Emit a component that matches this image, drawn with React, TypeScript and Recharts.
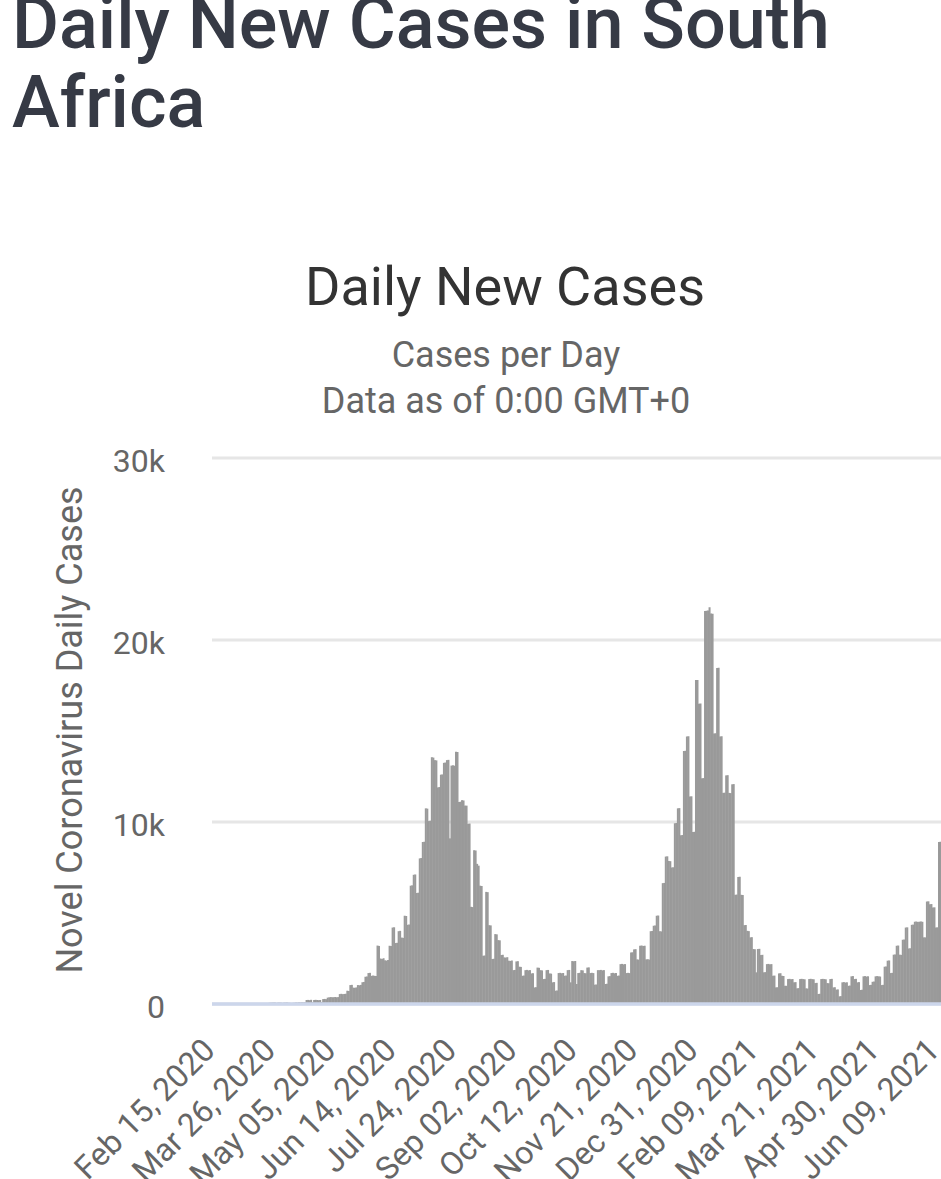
import React from 'react';
import { BarChart, Bar, XAxis, YAxis, CartesianGrid } from 'recharts';

// daily new cases, South Africa, one array per month
const feb2020 = [0, 0, 0, 0, 0, 0, 0, 0, 0, 0, 0, 0, 0, 0, 0];
const mar2020 = [
  0, 0, 0, 0, 1, 0, 1, 2, 4, 6, 3, 11, 4, 13, 13, 24, 7, 31, 34, 52,
  38, 34, 60, 70, 70, 80, 80, 60, 70, 80, 70,
];
const apr2020 = [
  60, 70, 80, 80, 70, 60, 50, 60, 70, 80, 80, 90, 90, 90, 90, 90,
  220, 225, 210, 230, 100, 220, 230, 220, 210, 220, 110, 270, 280, 265,
];
const may2020 = [
  350, 365, 380, 370, 372, 385, 368, 380, 545, 560, 540, 552, 563,
  730, 716, 1040, 1052, 900, 888, 912, 1040, 1028, 1050, 1195, 1212,
  1498, 1512, 1700, 1712, 1548, 1562,
];
const jun2020 = [
  1550, 1538, 3210, 3190, 2500, 2470, 2515, 2400, 2385, 2418, 3200, 3185,
  4200, 4215, 3350, 3362, 4000, 4020, 3650, 3632, 4850, 4836, 4350, 4368,
  6500, 6520, 7100, 7118, 6100, 6115,
];
const jul2020 = [
  8000, 8020, 8900, 8915, 10750, 10735, 10050, 10070, 13560, 13540,
  13400, 13385, 11900, 11920, 12600, 12615, 13250, 13268, 13400, 13415,
  9100, 13100, 13115, 13095, 13860, 13845, 11100, 11115, 11200, 11185,
  10900,
];
const aug2020 = [
  10900, 9900, 9915, 5340, 5325, 8450, 8435, 7700, 7600, 6500, 6485,
  2650, 2665, 6160, 6145, 4330, 4318, 2470, 2485, 3840, 3826, 3510, 3498,
  2690, 2705, 2560, 2548, 2572, 2380, 2366, 2392,
];
const sep2020 = [
  1860, 1872, 2340, 2352, 2050, 2038, 1550, 1562, 1860, 1874, 1848, 1862,
  1680, 1692, 910, 922, 2000, 1988, 1860, 1846, 1370, 1382, 1860, 1871,
  1680, 1668, 1190, 1203, 730, 742,
];
const oct2020 = [
  1700, 1712, 1688, 1702, 1550, 1563, 1860, 1872, 1190, 2360, 2348, 2362,
  1100, 1700, 1713, 1860, 1847, 1700, 1688, 2000, 2012, 1700, 1714, 1698,
  1060, 1072, 1860, 1860, 1873, 1848, 1862,
];
const nov2020 = [
  1100, 1112, 1520, 1532, 1700, 1713, 1688, 1702, 1550, 1561, 2190, 2204,
  2178, 2192, 1700, 1712, 1698, 2830, 2842, 3000, 3013, 2450, 2438, 3200,
  3214, 3188, 3202, 2450, 2462, 2441,
];
const dec2020 = [
  4000, 4012, 4300, 4314, 4850, 4862, 4000, 3988, 6640, 6652, 8100, 8114,
  7860, 7848, 7500, 7513, 9930, 9944, 10750, 10763, 9270, 9284, 13900,
  13912, 14700, 14714, 11400, 11413, 9450, 9462, 17800,
];
const jan2021 = [
  17800, 16500, 16513, 12400, 12414, 21600, 21612, 21620, 21800, 21450,
  21438, 14860, 14873, 18460, 18472, 14700, 14713, 11600, 11612, 12560,
  12573, 11600, 11588, 12070, 12083, 6000, 6012, 6980, 6992, 6000, 5988,
];
const feb2021 = [
  4330, 4342, 4020, 4004, 3660, 3672, 3020, 3008, 1740, 3020, 3032, 2690,
  2702, 1740, 1752, 2190, 2203, 2178, 2192, 1550, 1562, 910, 922, 1680,
  1692, 1550, 1538, 1000,
];
const mar2021 = [
  1000, 1370, 1382, 1358, 1372, 1190, 1202, 860, 872, 1370, 1383, 1368,
  1357, 860, 848, 1370, 1384, 1366, 1358, 1150, 1162, 550, 562, 1370, 1381,
  1369, 1356, 1150, 1138, 1370, 1382,
];
const apr2021 = [
  910, 922, 790, 802, 420, 432, 1190, 1203, 1178, 1192, 1000, 1012, 1520,
  1533, 1370, 1382, 1190, 1202, 770, 782, 1520, 1532, 1508, 1522, 1040,
  1052, 1220, 1233, 1520, 1532,
];
const may2021 = [
  1520, 1508, 1040, 1053, 2050, 2062, 2380, 2393, 1700, 1712, 2710, 2722,
  3200, 3213, 2710, 2698, 3530, 3542, 4200, 4212, 3050, 3063, 4350, 4362,
  4520, 4533, 4508, 4521, 4534, 4518, 3660,
];
const jun2021 = [3660, 5630, 5642, 5480, 5492, 5300, 5312, 4200, 4214, 8900, 8912];

const DAILY_CASES = [
  ...feb2020, ...mar2020, ...apr2020, ...may2020, ...jun2020, ...jul2020,
  ...aug2020, ...sep2020, ...oct2020, ...nov2020, ...dec2020, ...jan2021,
  ...feb2021, ...mar2021, ...apr2021, ...may2021, ...jun2021,
];

const TICK_LABELS = [
  'Feb 15, 2020', 'Mar 26, 2020', 'May 05, 2020', 'Jun 14, 2020',
  'Jul 24, 2020', 'Sep 02, 2020', 'Oct 12, 2020', 'Nov 21, 2020',
  'Dec 31, 2020', 'Feb 09, 2021', 'Mar 21, 2021', 'Apr 30, 2021',
  'Jun 09, 2021',
];
const Y_TICKS = [0, 10000, 20000, 30000];

const MONTH_NAMES = ['Jan', 'Feb', 'Mar', 'Apr', 'May', 'Jun', 'Jul', 'Aug', 'Sep', 'Oct', 'Nov', 'Dec'];
const FIRST_DAY = Date.UTC(2020, 1, 15);

const dayLabel = (i: number) => {
  const d = new Date(FIRST_DAY + i * 86400000);
  const dd = String(d.getUTCDate()).padStart(2, '0');
  return `${MONTH_NAMES[d.getUTCMonth()]} ${dd}, ${d.getUTCFullYear()}`;
};

const chartData = DAILY_CASES.map((cases, i) => ({ date: dayLabel(i), cases }));

const FONT = 'Roboto, "Noto Sans", sans-serif';

export default function App() {
  return (
    <div style={{ position: 'relative', width: 941, height: 1179, overflow: 'hidden', background: '#fff', fontFamily: FONT }}>
      <style>{'body{margin:0;}'}</style>
      <BarChart
        width={941}
        height={1179}
        data={chartData}
        margin={{ top: 458, right: 0, bottom: 0, left: 0 }}
        barCategoryGap={0}
        barGap={0}
        style={{ position: 'absolute', left: 0, top: 0 }}
      >
        <CartesianGrid vertical={false} stroke="#e6e6e6" strokeWidth={3} />
        <XAxis
          dataKey="date"
          ticks={TICK_LABELS}
          interval={0}
          height={175}
          tickLine={false}
          axisLine={{ stroke: '#ccd6eb', strokeWidth: 3.5 }}
          angle={-45}
          textAnchor="end"
          tickMargin={26}
          tick={{ fontSize: 32, fill: '#666666', fontFamily: FONT, dx: -12 }}
        />
        <YAxis
          domain={[0, 30000]}
          ticks={Y_TICKS}
          width={212}
          tickLine={false}
          axisLine={false}
          tickMargin={41}
          tickFormatter={(v: number) => (v === 0 ? '0' : `${v / 1000}k`)}
          tick={{ fontSize: 32, fill: '#666666', fontFamily: FONT, dy: 3 }}
        />
        <Bar dataKey="cases" fill="#9a9a9a" isAnimationActive={false} />
      </BarChart>

      <svg width={941} height={1179} style={{ position: 'absolute', left: 0, top: 0, pointerEvents: 'none' }}>
        <g fontFamily={FONT}>
          <text x={12} y={48} fontSize={72} fontWeight={500} fill="#363a45">Daily New Cases in South</text>
          <text x={12} y={127} fontSize={72} fontWeight={500} fill="#363a45">Africa</text>
          <text x={505} y={305} fontSize={54} fill="#333333" textAnchor="middle">Daily New Cases</text>
          <text x={506} y={367} fontSize={36} fill="#666666" textAnchor="middle">Cases per Day</text>
          <text x={506} y={413} fontSize={36} fill="#666666" textAnchor="middle">Data as of 0:00 GMT+0</text>
          <text x={82} y={730} fontSize={36} fill="#666666" textAnchor="middle" transform="rotate(-90 82 730)">
            Novel Coronavirus Daily Cases
          </text>
        </g>
      </svg>
    </div>
  );
}
